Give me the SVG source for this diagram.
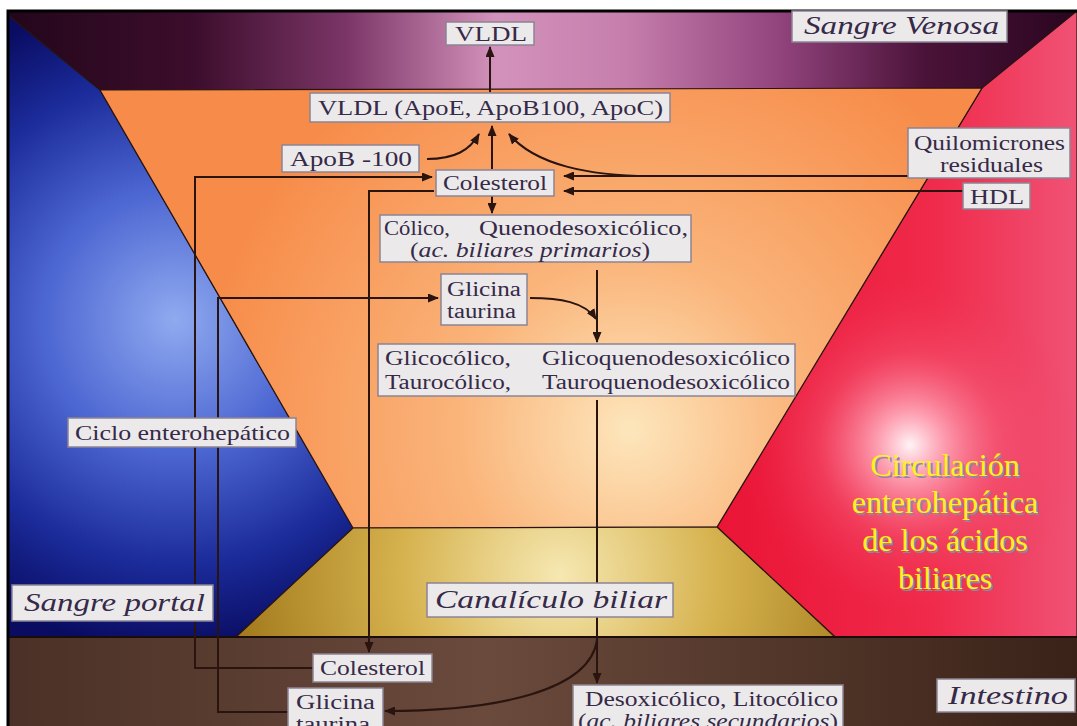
<svg xmlns="http://www.w3.org/2000/svg" width="1077" height="726" viewBox="0 0 1077 726">
<defs>
<linearGradient id="gPurple" x1="0" y1="0" x2="1077" y2="0" gradientUnits="userSpaceOnUse">
<stop offset="0" stop-color="#22061a"/>
<stop offset="0.18" stop-color="#3c0d2c"/>
<stop offset="0.32" stop-color="#7a3566"/>
<stop offset="0.46" stop-color="#d392bb"/>
<stop offset="0.58" stop-color="#c67fad"/>
<stop offset="0.72" stop-color="#93457e"/>
<stop offset="0.86" stop-color="#4a1238"/>
<stop offset="1" stop-color="#2a0620"/>
</linearGradient>
<radialGradient id="gBlue" cx="175" cy="320" r="330" gradientUnits="userSpaceOnUse">
<stop offset="0" stop-color="#90aaf0"/>
<stop offset="0.4" stop-color="#4c66d2"/>
<stop offset="0.75" stop-color="#1a2a98"/>
<stop offset="1" stop-color="#0a0c62"/>
</radialGradient>
<radialGradient id="gOrange" cx="630" cy="430" r="430" gradientUnits="userSpaceOnUse">
<stop offset="0" stop-color="#fde6bc"/>
<stop offset="0.4" stop-color="#fab47a"/>
<stop offset="1" stop-color="#f78c4a"/>
</radialGradient>
<radialGradient id="gYellow" cx="560" cy="575" r="320" gradientUnits="userSpaceOnUse">
<stop offset="0" stop-color="#f6e8b2"/>
<stop offset="0.5" stop-color="#d6b24e"/>
<stop offset="1" stop-color="#a47c1e"/>
</radialGradient>
<linearGradient id="gRed" x1="717" y1="0" x2="1077" y2="0" gradientUnits="userSpaceOnUse">
<stop offset="0" stop-color="#ea1436"/>
<stop offset="0.6" stop-color="#f02a4a"/>
<stop offset="1" stop-color="#f05275"/>
</linearGradient>
<radialGradient id="gRedHi" cx="910" cy="445" r="170" gradientUnits="userSpaceOnUse">
<stop offset="0" stop-color="#fff4f6" stop-opacity="1"/>
<stop offset="0.2" stop-color="#ffb0c0" stop-opacity="0.85"/>
<stop offset="0.55" stop-color="#f86a86" stop-opacity="0.35"/>
<stop offset="1" stop-color="#f03050" stop-opacity="0"/>
</radialGradient>
<linearGradient id="gBrown" x1="0" y1="0" x2="1077" y2="0" gradientUnits="userSpaceOnUse">
<stop offset="0" stop-color="#4a3026"/>
<stop offset="0.45" stop-color="#6a4a3c"/>
<stop offset="1" stop-color="#3a2218"/>
</linearGradient>
<marker id="arr" markerUnits="userSpaceOnUse" markerWidth="11" markerHeight="9" refX="10" refY="4.5" orient="auto">
<path d="M0,0 L11,4.5 L0,9 z" fill="#2a1410"/>
</marker>
<clipPath id="frame"><rect x="8" y="11" width="1069" height="715"/></clipPath>
</defs>
<style>
.box{fill:#ece9ea;stroke:#8c8494;stroke-width:1.5}
.t{font-family:"Liberation Serif","Times New Roman",serif;font-size:22px;fill:#352a48}
.t2{font-family:"Liberation Serif","Times New Roman",serif;font-size:20.5px;fill:#352a48}
.ti{font-family:"Liberation Serif","Times New Roman",serif;font-size:26px;font-style:italic;fill:#352a48}
.it{font-style:italic}
.y{font-family:"Liberation Serif","Times New Roman",serif;font-size:32px;text-anchor:middle}
.ys{fill:#8e86a6}
.yf{fill:#fff21a}
.c{fill:none;stroke:#2a1410;stroke-width:2}
.edge{stroke:#2a1410;stroke-width:1.2}
</style>
<rect x="0" y="0" width="1077" height="726" fill="#ffffff"/>
<g id="background" clip-path="url(#frame)">
<rect x="8" y="11" width="1069" height="715" fill="url(#gPurple)"/>
<polygon points="8,15 100,90 353,528 236,637 8,637" fill="url(#gBlue)" class="edge"/>
<polygon points="1077,11 982,88 717,527 835,637 1077,637" fill="url(#gRed)" class="edge"/>
<polygon points="1077,11 982,88 717,527 835,637 1077,637" fill="url(#gRedHi)"/>
<polygon points="100,90 982,88 717,527 353,528" fill="url(#gOrange)" class="edge"/>
<polygon points="353,528 717,527 835,637 236,637" fill="url(#gYellow)" class="edge"/>
<rect x="8" y="637" width="1069" height="89" fill="url(#gBrown)"/>
<line x1="8" y1="637" x2="1077" y2="637" stroke="#1a0c08" stroke-width="2"/>
</g>
<rect x="8" y="11" width="1075" height="720" fill="none" stroke="#000" stroke-width="3"/>
<g id="connectors">
<path class="c" d="M490,92 V47" marker-end="url(#arr)"/>
<path class="c" d="M492,169 V126" marker-end="url(#arr)"/>
<path class="c" d="M427,159 C455,159 470,150 479,134" marker-end="url(#arr)"/>
<path class="c" d="M650,176 C590,176 535,165 509,134" marker-end="url(#arr)"/>
<path class="c" d="M908,176 H564" marker-end="url(#arr)"/>
<path class="c" d="M963,191 H564" marker-end="url(#arr)"/>
<path class="c" d="M492,196 V213" marker-end="url(#arr)"/>
<path class="c" d="M313,668 H195 V177 H432" marker-end="url(#arr)"/>
<path class="c" d="M288,712 H218 V298 H438" marker-end="url(#arr)"/>
<path class="c" d="M434,191 H369 V652" marker-end="url(#arr)"/>
<path class="c" d="M597,270 V342" marker-end="url(#arr)"/>
<path class="c" d="M530,298 C560,298 585,302 596,319" marker-end="url(#arr)"/>
<path class="c" d="M597,400 V683" marker-end="url(#arr)"/>
<path class="c" d="M597,640 C590,690 500,711 385,711" marker-end="url(#arr)"/>
</g>
<g id="vldl">
<rect class="box" x="446" y="22" width="88" height="23"/>
<text class="t" x="455" y="41" textLength="72" lengthAdjust="spacingAndGlyphs">VLDL</text>
</g>
<g id="sangre-venosa">
<rect class="box" x="792" y="11" width="215" height="31"/>
<text class="ti" x="804" y="34" textLength="195" lengthAdjust="spacingAndGlyphs">Sangre Venosa</text>
</g>
<g id="vldl-apo">
<rect class="box" x="310" y="93" width="360" height="29"/>
<text class="t" x="318" y="115" textLength="345" lengthAdjust="spacingAndGlyphs">VLDL (ApoE, ApoB100, ApoC)</text>
</g>
<g id="apob100">
<rect class="box" x="282" y="145" width="137" height="27"/>
<text class="t" x="290" y="166" textLength="122" lengthAdjust="spacingAndGlyphs">ApoB -100</text>
</g>
<g id="colesterol-top">
<rect class="box" x="436" y="170" width="118" height="26"/>
<text class="t" x="443" y="190" textLength="104" lengthAdjust="spacingAndGlyphs">Colesterol</text>
</g>
<g id="quilomicrones">
<rect class="box" x="908" y="128" width="162" height="50"/>
<text class="t2" x="914" y="150" textLength="151" lengthAdjust="spacingAndGlyphs">Quilomicrones</text>
<text class="t2" x="940" y="172" textLength="103" lengthAdjust="spacingAndGlyphs">residuales</text>
</g>
<g id="hdl">
<rect class="box" x="963" y="183" width="67" height="26"/>
<text class="t" x="970" y="204" textLength="54" lengthAdjust="spacingAndGlyphs">HDL</text>
</g>
<g id="primarios">
<rect class="box" x="380" y="215" width="311" height="47"/>
<text class="t2" x="384" y="235" textLength="66" lengthAdjust="spacingAndGlyphs">Cólico,</text>
<text class="t2" x="479" y="235" textLength="209" lengthAdjust="spacingAndGlyphs">Quenodesoxicólico,</text>
<text class="t2" x="410" y="257" textLength="240" lengthAdjust="spacingAndGlyphs">(<tspan class="it">ac. biliares primarios</tspan>)</text>
</g>
<g id="glicina-top">
<rect class="box" x="441" y="274" width="86" height="51"/>
<text class="t2" x="447" y="296" textLength="74" lengthAdjust="spacingAndGlyphs">Glicina</text>
<text class="t2" x="447" y="318" textLength="69" lengthAdjust="spacingAndGlyphs">taurina</text>
</g>
<g id="conjugados">
<rect class="box" x="378" y="344" width="417" height="52"/>
<text class="t2" x="385" y="365" textLength="126" lengthAdjust="spacingAndGlyphs">Glicocólico,</text>
<text class="t2" x="542" y="365" textLength="248" lengthAdjust="spacingAndGlyphs">Glicoquenodesoxicólico</text>
<text class="t2" x="385" y="389" textLength="126" lengthAdjust="spacingAndGlyphs">Taurocólico,</text>
<text class="t2" x="542" y="389" textLength="248" lengthAdjust="spacingAndGlyphs">Tauroquenodesoxicólico</text>
</g>
<g id="ciclo">
<rect class="box" x="68" y="418" width="228" height="29"/>
<text class="t" x="75" y="440" textLength="215" lengthAdjust="spacingAndGlyphs">Ciclo enterohepático</text>
</g>
<g id="sangre-portal">
<rect class="box" x="12" y="585" width="201" height="36"/>
<text class="ti" x="24" y="611" textLength="181" lengthAdjust="spacingAndGlyphs">Sangre portal</text>
</g>
<g id="canaliculo">
<rect class="box" x="427" y="583" width="246" height="34"/>
<text class="ti" x="435" y="608" textLength="232" lengthAdjust="spacingAndGlyphs">Canalículo biliar</text>
</g>
<g id="colesterol-bottom">
<rect class="box" x="313" y="654" width="119" height="28"/>
<text class="t" x="320" y="675" textLength="105" lengthAdjust="spacingAndGlyphs">Colesterol</text>
</g>
<g id="glicina-bottom">
<rect class="box" x="288" y="688" width="95" height="44"/>
<text class="t2" x="296" y="709" textLength="79" lengthAdjust="spacingAndGlyphs">Glicina</text>
<text class="t2" x="296" y="731" textLength="74" lengthAdjust="spacingAndGlyphs">taurina</text>
</g>
<g id="secundarios">
<rect class="box" x="573" y="685" width="270" height="46"/>
<text class="t2" x="585" y="706" textLength="253" lengthAdjust="spacingAndGlyphs">Desoxicólico, Litocólico</text>
<text class="t2" x="578" y="728" textLength="260" lengthAdjust="spacingAndGlyphs">(<tspan class="it">ac. biliares secundarios</tspan>)</text>
</g>
<g id="intestino">
<rect class="box" x="937" y="679" width="138" height="33"/>
<text class="ti" x="948" y="704" textLength="120" lengthAdjust="spacingAndGlyphs">Intestino</text>
</g>
<g id="titulo">
<text class="y ys" x="947" y="478">Circulación</text>
<text class="y ys" x="947" y="515">enterohepática</text>
<text class="y ys" x="947" y="553">de los ácidos</text>
<text class="y ys" x="947" y="591">biliares</text>
<text class="y yf" x="945" y="476">Circulación</text>
<text class="y yf" x="945" y="513">enterohepática</text>
<text class="y yf" x="945" y="551">de los ácidos</text>
<text class="y yf" x="945" y="589">biliares</text>
</g>
</svg>
